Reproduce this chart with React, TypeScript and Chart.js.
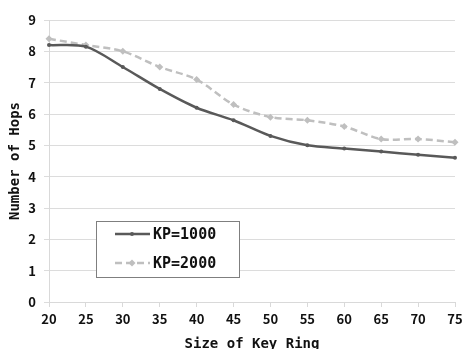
import React, { useEffect, useRef } from "react";
import { Chart, registerables } from "chart.js";

Chart.register(...registerables);

const keyRingSizes = ["20", "25", "30", "35", "40", "45", "50", "55", "60", "65", "70", "75"];
const kp1000 = [8.2, 8.15, 7.5, 6.8, 6.2, 5.8, 5.3, 5.0, 4.9, 4.8, 4.7, 4.6];
const kp2000 = [8.4, 8.2, 8.0, 7.5, 7.1, 6.3, 5.9, 5.8, 5.6, 5.2, 5.2, 5.1];
const seriesNames = ["KP=1000", "KP=2000"];
const yTicks = [0, 1, 2, 3, 4, 5, 6, 7, 8, 9];
const xTitle = "Size of Key Ring";
const yTitle = "Number of Hops";

const MONO = "'DejaVu Sans Mono', monospace";
const SANS = "'Noto Sans CJK KR', 'DejaVu Sans', sans-serif";

const boxLegend = {
  id: "boxLegend",
  afterDraw(chart: any) {
    const ctx = chart.ctx;
    const x0 = 96, y0 = 221, w = 143, h = 56;
    ctx.save();
    ctx.fillStyle = "#ffffff";
    ctx.fillRect(x0, y0, w, h);
    ctx.strokeStyle = "#7f7f7f";
    ctx.lineWidth = 1;
    ctx.strokeRect(x0 + 0.5, y0 + 0.5, w, h);
    const rows = [234, 263];
    chart.data.datasets.forEach((ds: any, i: number) => {
      const y = rows[i];
      ctx.strokeStyle = ds.borderColor;
      ctx.lineWidth = ds.borderWidth;
      ctx.setLineDash(ds.borderDash || []);
      ctx.beginPath();
      ctx.moveTo(115, y);
      ctx.lineTo(150, y);
      ctx.stroke();
      ctx.setLineDash([]);
      ctx.fillStyle = ds.pointBackgroundColor;
      if (ds.pointStyle === "rectRot") {
        ctx.beginPath();
        ctx.moveTo(132, y - 3.5);
        ctx.lineTo(135.5, y);
        ctx.lineTo(132, y + 3.5);
        ctx.lineTo(128.5, y);
        ctx.closePath();
        ctx.fill();
      } else {
        ctx.beginPath();
        ctx.arc(132, y, 2, 0, Math.PI * 2);
        ctx.fill();
      }
      ctx.fillStyle = "#111111";
      ctx.font = `bold 15px ${MONO}`;
      ctx.textBaseline = "middle";
      ctx.textAlign = "left";
      ctx.fillText(ds.label, 153, y + 1);
    });
    ctx.restore();
  },
};

export default function App() {
  const ref = useRef<HTMLCanvasElement>(null);
  useEffect(() => {
    if (!ref.current) return;
    const chart = new Chart(ref.current, {
      type: "line",
      data: {
        labels: keyRingSizes,
        datasets: [
          {
            label: seriesNames[0],
            data: kp1000,
            borderColor: "#595959",
            backgroundColor: "#595959",
            pointBackgroundColor: "#595959",
            pointBorderColor: "#595959",
            borderWidth: 2.5,
            pointRadius: 2,
            pointBorderWidth: 0,
            pointStyle: "circle",
            tension: 0.3,
          },
          {
            label: seriesNames[1],
            data: kp2000,
            borderColor: "#bfbfbf",
            backgroundColor: "#bfbfbf",
            pointBackgroundColor: "#bfbfbf",
            pointBorderColor: "#bfbfbf",
            borderWidth: 2.5,
            borderDash: [7, 4],
            pointRadius: 3.5,
            pointBorderWidth: 0,
            pointStyle: "rectRot",
            tension: 0.3,
          },
        ] as any,
      },
      options: {
        animation: false,
        responsive: false,
        maintainAspectRatio: false,
        layout: { padding: { top: 20, right: 0, left: 0, bottom: 0 } },
        plugins: { legend: { display: false }, tooltip: { enabled: false } },
        scales: {
          x: {
            offset: false,
            afterFit: (s: any) => { s.height = 54; s.paddingRight = 8; },
            grid: { drawOnChartArea: false, drawTicks: true, tickLength: 5, color: "#d9d9d9" },
            border: { color: "#d9d9d9" },
            ticks: { color: "#111", font: { family: SANS, size: 13, weight: "bold" }, padding: 4, maxRotation: 0, autoSkip: false },
            title: { display: true, text: xTitle, color: "#111", font: { family: MONO, size: 14, weight: "bold" }, padding: { top: 2, bottom: 3 } },
          },
          y: {
            min: 0,
            max: 9,
            afterFit: (s: any) => { s.width = 49; },
            afterBuildTicks: (s: any) => { s.ticks = yTicks.map((v) => ({ value: v })); },
            grid: { color: "#dcdcdc", tickLength: 5, lineWidth: 1 },
            border: { color: "#d9d9d9" },
            ticks: { color: "#111", font: { family: SANS, size: 13, weight: "bold" }, padding: 8 },
            title: { display: true, text: yTitle, color: "#111", font: { family: MONO, size: 14, weight: "bold" }, padding: { top: 7, bottom: 0 } },
          },
        },
      },
      plugins: [boxLegend],
    });
    return () => chart.destroy();
  }, []);
  return (
    <div style={{ position: "fixed", left: 0, top: 0, width: 463, height: 349, overflow: "hidden", background: "#fff" }}>
      <canvas ref={ref} width={463} height={356} style={{ display: "block" }} />
    </div>
  );
}
